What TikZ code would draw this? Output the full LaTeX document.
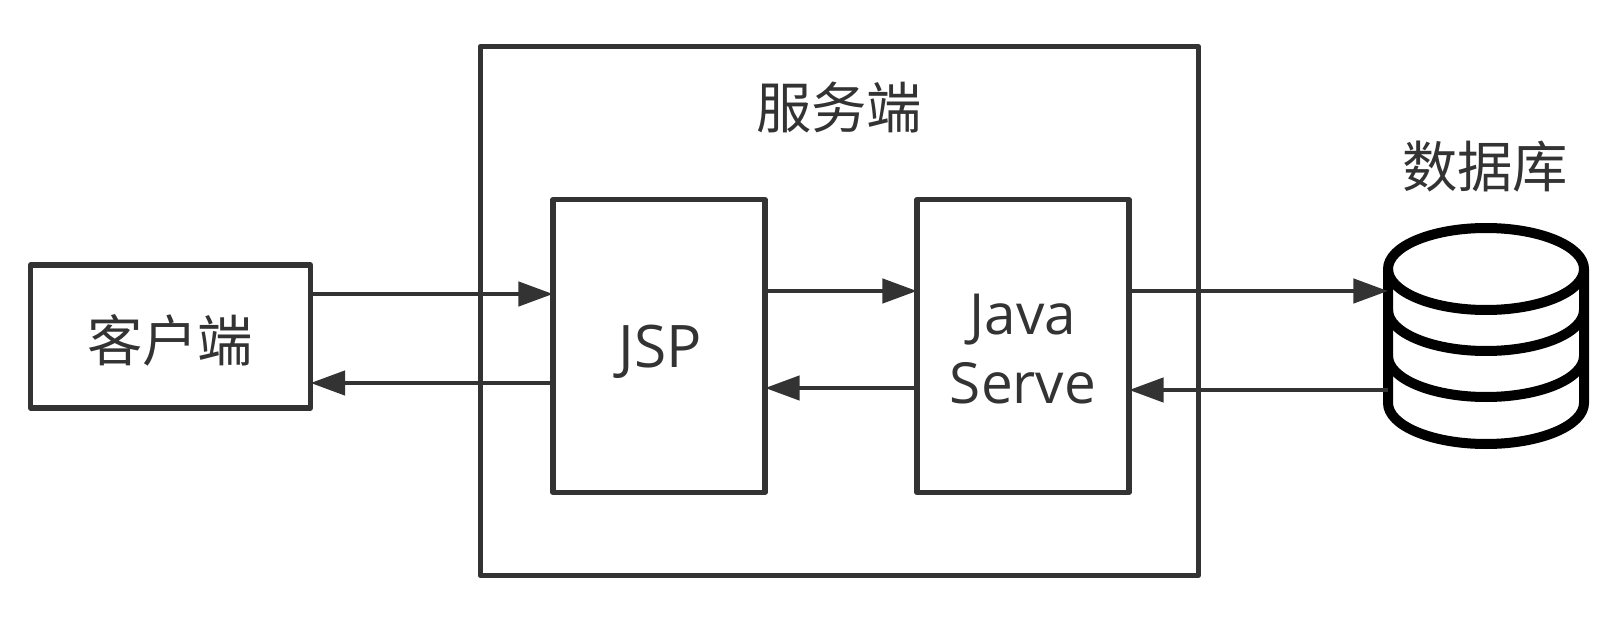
\documentclass[tikz,border=0pt]{standalone}
\usepackage{fontspec}
\setmainfont{Open Sans}
\newfontfamily\cjk{Noto Sans CJK SC}
\usetikzlibrary{arrows.meta}
\definecolor{inkgray}{HTML}{333333}
\tikzset{
  boxnode/.style={draw=inkgray,line width=3.8pt,line join=round,inner sep=0pt,outer sep=0pt},
  label/.style={text=inkgray,font=\cjk\fontsize{41.5}{48}\selectfont,inner sep=0pt},
  latin/.style={text=inkgray,font=\fontsize{42.5}{52}\selectfont,align=center,inner sep=0pt},
  conn/.style={draw=inkgray,line width=3.5pt,-{Triangle[length=26pt,width=18pt]}},
  dbline/.style={draw=black,line width=7.5pt,line join=round},
}
\begin{document}
\begin{tikzpicture}[x=0.75pt,y=-0.75pt]
\useasboundingbox [fill=white] (0,0) rectangle (1617,624);
% boxes
\node [boxnode,minimum width=210pt,minimum height=107.25pt] (client) at (170.5,336.5) {};
\node [boxnode,minimum width=538.5pt,minimum height=396.75pt] (server) at (839.25,311) {};
\node [boxnode,minimum width=159pt,minimum height=219.75pt] (jsp) at (659,346) {};
\node [boxnode,minimum width=159pt,minimum height=219.75pt] (java) at (1023,346) {};
\node [inner sep=0pt,outer sep=0pt,minimum width=147pt,minimum height=162pt] (db) at (1486,336) {};
% texts
\node [label] (clienttext) at (170,340) {客户端};
\node [label] (servertext) at (839,108) {服务端};
\node [label] (dbtext) at (1485,167) {数据库};
\node [latin,font=\fontsize{44}{52}\selectfont] (jsptext) at (660,352) {JSP};
\node [latin] (javatext) at (1023,349) {Java\\Serve};
% database
\draw [dbline] (1486,269) ellipse [x radius=98,y radius=41];
\draw [dbline] (1388,269) -- (1388,403) arc [start angle=180,end angle=0,x radius=98,y radius=41] -- (1584,269);
\draw [dbline] (1388,310) arc [start angle=180,end angle=0,x radius=98,y radius=41];
\draw [dbline] (1388,356) arc [start angle=180,end angle=0,x radius=98,y radius=41];
% arrows
\draw [conn] (client.east |- 0,294) -- (jsp.west |- 0,294);
\draw [conn] (jsp.west |- 0,383) -- (client.east |- 0,383);
\draw [conn] (jsp.east |- 0,291) -- (java.west |- 0,291);
\draw [conn] (java.west |- 0,388) -- (jsp.east |- 0,388);
\draw [conn] (java.east |- 0,291) -- (db.west |- 0,291);
\draw [conn] (db.west |- 0,390) -- (java.east |- 0,390);
\end{tikzpicture}
\end{document}
